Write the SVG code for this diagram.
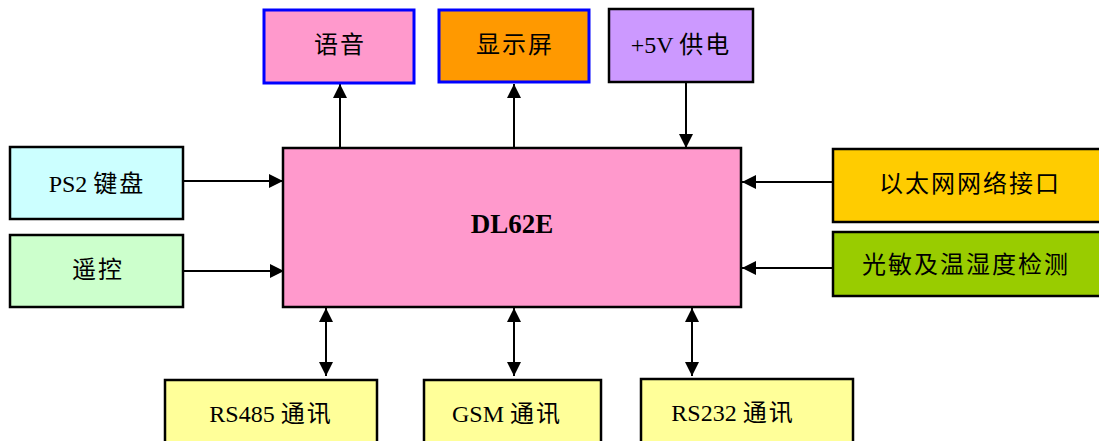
<svg xmlns="http://www.w3.org/2000/svg" width="1099" height="441" viewBox="0 0 1099 441">
<style>
.box{stroke:#000;stroke-width:2.5}
.blue{stroke:#0000FF;stroke-width:3}
.t{font-family:"Liberation Serif","Noto Sans CJK SC",serif;font-size:24px;fill:#000;text-anchor:middle}
.cj{letter-spacing:2px}
.ln{stroke:#000;stroke-width:2;fill:none}
</style>
<defs>
<marker id="ah" viewBox="0 0 14 14" refX="14" refY="7" markerWidth="14" markerHeight="14" markerUnits="userSpaceOnUse" orient="auto-start-reverse">
<path d="M0,0 L14,7 L0,14 Z" fill="#000"/>
</marker>
</defs>
<g id="connectors">
<line class="ln" x1="340" y1="148" x2="340" y2="84" marker-end="url(#ah)"/>
<line class="ln" x1="514" y1="148" x2="514" y2="84" marker-end="url(#ah)"/>
<line class="ln" x1="686" y1="82" x2="686" y2="148" marker-end="url(#ah)"/>
<line class="ln" x1="183" y1="181" x2="283" y2="181" marker-end="url(#ah)"/>
<line class="ln" x1="183" y1="271" x2="284" y2="271" marker-end="url(#ah)"/>
<line class="ln" x1="833" y1="182" x2="742" y2="182" marker-end="url(#ah)"/>
<line class="ln" x1="833" y1="268" x2="742" y2="268" marker-end="url(#ah)"/>
<line class="ln" x1="326" y1="308" x2="326" y2="376" marker-start="url(#ah)" marker-end="url(#ah)"/>
<line class="ln" x1="514" y1="308" x2="514" y2="376" marker-start="url(#ah)" marker-end="url(#ah)"/>
<line class="ln" x1="692" y1="308" x2="692" y2="376" marker-start="url(#ah)" marker-end="url(#ah)"/>
</g>
<g id="main">
<rect class="box" x="283" y="148" width="458" height="159" fill="#FF99CC"/>
<text class="t" x="512" y="233" style="font-weight:bold;font-size:27px">DL62E</text>
</g>
<g id="voice">
<rect class="blue" x="264" y="10" width="150" height="73" fill="#FF99CC"/>
<text class="t cj" x="340" y="53">语音</text>
</g>
<g id="display">
<rect class="blue" x="439" y="10" width="150" height="72" fill="#FF9900"/>
<text class="t cj" x="515" y="53">显示屏</text>
</g>
<g id="power">
<rect class="box" x="609" y="9" width="144" height="73" fill="#CC99FF"/>
<text class="t" x="681" y="53">+5V <tspan class="cj">供电</tspan></text>
</g>
<g id="ps2">
<rect class="box" x="10" y="147" width="173" height="72" fill="#CCFFFF"/>
<text class="t" x="97" y="192">PS2 <tspan class="cj">键盘</tspan></text>
</g>
<g id="remote">
<rect class="box" x="10" y="235" width="173" height="72" fill="#CCFFCC"/>
<text class="t cj" x="98" y="278">遥控</text>
</g>
<g id="ethernet">
<rect class="box" x="833" y="149" width="270" height="73" fill="#FFCC00"/>
<text class="t cj" x="970" y="192">以太网网络接口</text>
</g>
<g id="sensor">
<rect class="box" x="833" y="232" width="270" height="64" fill="#99CC00"/>
<text class="t cj" x="966" y="273">光敏及温湿度检测</text>
</g>
<g id="rs485">
<rect class="box" x="165" y="380" width="212" height="66" fill="#FFFF99"/>
<text class="t" x="271" y="422">RS485 <tspan class="cj">通讯</tspan></text>
</g>
<g id="gsm">
<rect class="box" x="424" y="380" width="177" height="66" fill="#FFFF99"/>
<text class="t" x="507" y="422">GSM <tspan class="cj">通讯</tspan></text>
</g>
<g id="rs232">
<rect class="box" x="641" y="379" width="212" height="67" fill="#FFFF99"/>
<text class="t" x="733" y="421">RS232 <tspan class="cj">通讯</tspan></text>
</g>
</svg>
